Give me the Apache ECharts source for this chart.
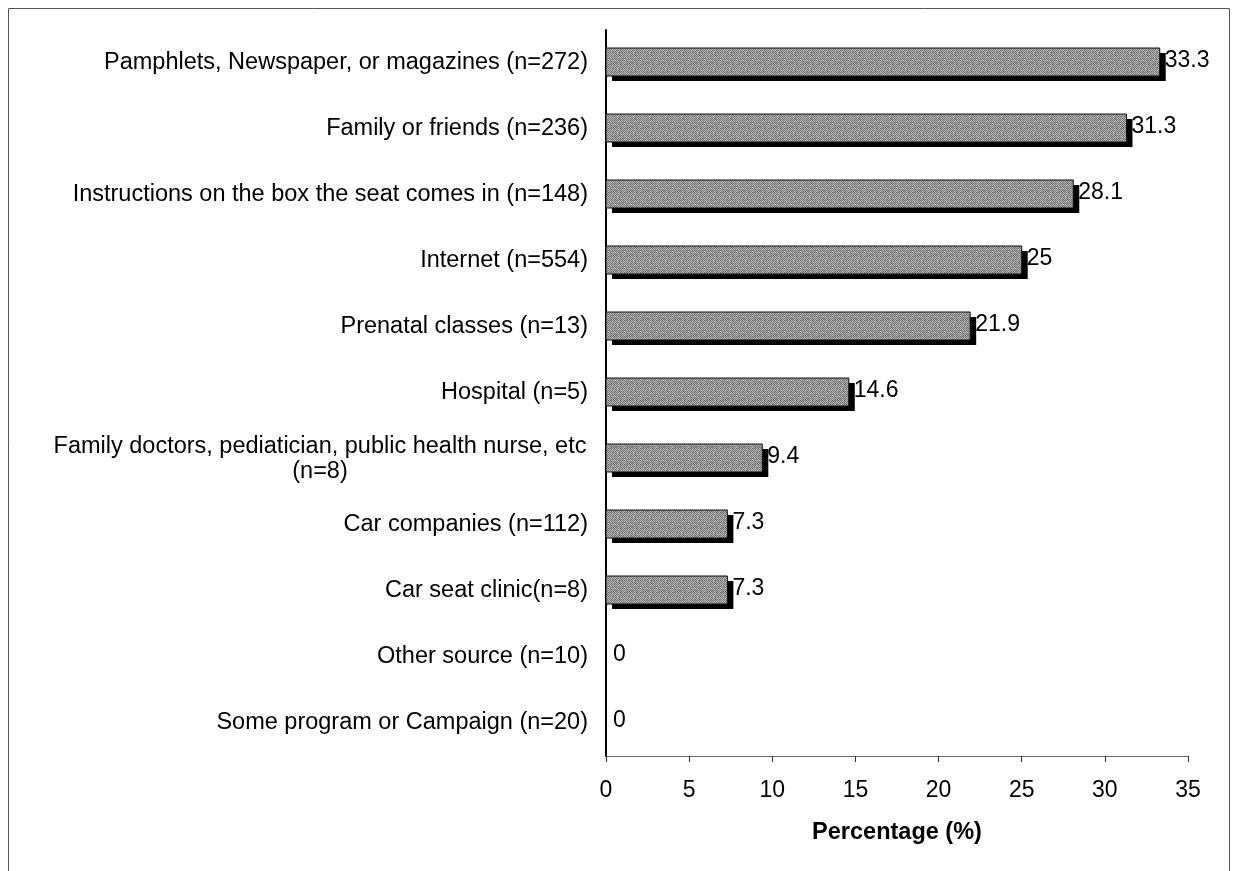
<!DOCTYPE html>
<html>
<head>
<meta charset="utf-8">
<script src="https://cdn.jsdelivr.net/npm/echarts@6/dist/echarts.min.js"></script>
<style>
html,body{margin:0;padding:0;background:#fff;}
#chart{width:1234px;height:871px;}
</style>
</head>
<body>
<div id="chart"></div>
<script>
const categories = [
  "Pamphlets, Newspaper, or magazines (n=272)",
  "Family or friends (n=236)",
  "Instructions on the box the seat comes in (n=148)",
  "Internet (n=554)",
  "Prenatal classes (n=13)",
  "Hospital (n=5)",
  "Family doctors, pediatician, public health nurse, etc\n(n=8)",
  "Car companies (n=112)",
  "Car seat clinic(n=8)",
  "Other source (n=10)",
  "Some program or Campaign (n=20)"
];
const values = [33.3, 31.3, 28.1, 25, 21.9, 14.6, 9.4, 7.3, 7.3, 0, 0];
const xTicks = [0, 5, 10, 15, 20, 25, 30, 35];
const xTitle = "Percentage (%)";

// grainy gray texture (deterministic hash, styling only)
const pc = document.createElement('canvas');
pc.width = 16; pc.height = 16;
const pctx = pc.getContext('2d');
for (let i = 0; i < 16; i++) {
  for (let j = 0; j < 16; j++) {
    const hsh = ((i * 73856093) ^ (j * 19349663) ^ ((i + j) * 83492791)) >>> 0;
    const g = ((i + j) % 2 === 0) ? 100 + (hsh % 40) : 150 + (hsh % 50);
    pctx.fillStyle = 'rgb(' + g + ',' + g + ',' + g + ')';
    pctx.fillRect(j, i, 1, 1);
  }
}

const fontFam = "'Liberation Sans', Arial, sans-serif";
const FS = 23;

function renderBar(params, api) {
  const v = api.value(0), idx = api.value(1);
  const p0 = api.coord([0, idx]);
  const p1 = api.coord([v, idx]);
  const h = 28;
  const x = p0[0], y = p0[1] - h / 2 - 1, w = p1[0] - p0[0];
  const children = [];
  if (w > 0) {
    children.push({type: 'rect', shape: {x: x + 6, y: y + 5, width: w, height: h}, style: {fill: '#000'}});
    children.push({type: 'rect', shape: {x: x, y: y, width: w, height: h},
      style: {fill: {image: pc, repeat: 'repeat'}, stroke: '#111', lineWidth: 1}});
  }
  children.push({type: 'text', x: p1[0] + (w > 0 ? 5 : 7), y: p0[1] - 2,
    style: {text: String(v), fontFamily: fontFam, fontSize: FS, fill: '#000', verticalAlign: 'middle', align: 'left'}});
  return {type: 'group', children: children};
}

const chart = echarts.init(document.getElementById('chart'), null, {renderer:'canvas'});
chart.setOption({
  animation: false,
  backgroundColor: '#fff',
  graphic: [{
    type: 'rect', shape: {x: 8.5, y: 8.5, width: 1221, height: 900},
    style: {fill: 'none', stroke: '#555', lineWidth: 1}, z: -1
  }],
  grid: {left: 606, top: 30, width: 582, height: 726, containLabel: false},
  xAxis: {
    type: 'value', min: xTicks[0], max: xTicks[xTicks.length-1], interval: 5,
    name: xTitle, nameLocation: 'middle', nameGap: 65,
    nameTextStyle: {fontFamily: fontFam, fontSize: 23.5, fontWeight: 'bold', color: '#000'},
    axisLine: {show: true, lineStyle: {color: '#666', width: 1}},
    axisTick: {show: true, length: 6, lineStyle: {color: '#333'}},
    axisLabel: {fontFamily: fontFam, fontSize: FS, color: '#000', margin: 23},
    splitLine: {show: false}
  },
  yAxis: {
    type: 'category', data: categories, inverse: true,
    axisLine: {show: true, lineStyle: {color: '#000', width: 2}},
    axisTick: {show: false},
    axisLabel: {
      fontFamily: fontFam, fontSize: 23.5, color: '#000', margin: 18, lineHeight: 25,
      formatter: function (v) {
        if (v.indexOf('\n') >= 0) {
          return v.split('\n').map(s => '{c|' + s + '}').join('\n');
        }
        return v;
      },
      rich: {c: {width: 536, align: 'center', fontFamily: fontFam, fontSize: 23.5, color: '#000', lineHeight: 25}}
    }
  },
  series: [{
    type: 'custom',
    data: values.map((v, i) => [v, i]),
    encode: {x: 0, y: 1},
    renderItem: renderBar,
    z: 1
  }]
});
</script>
</body>
</html>
